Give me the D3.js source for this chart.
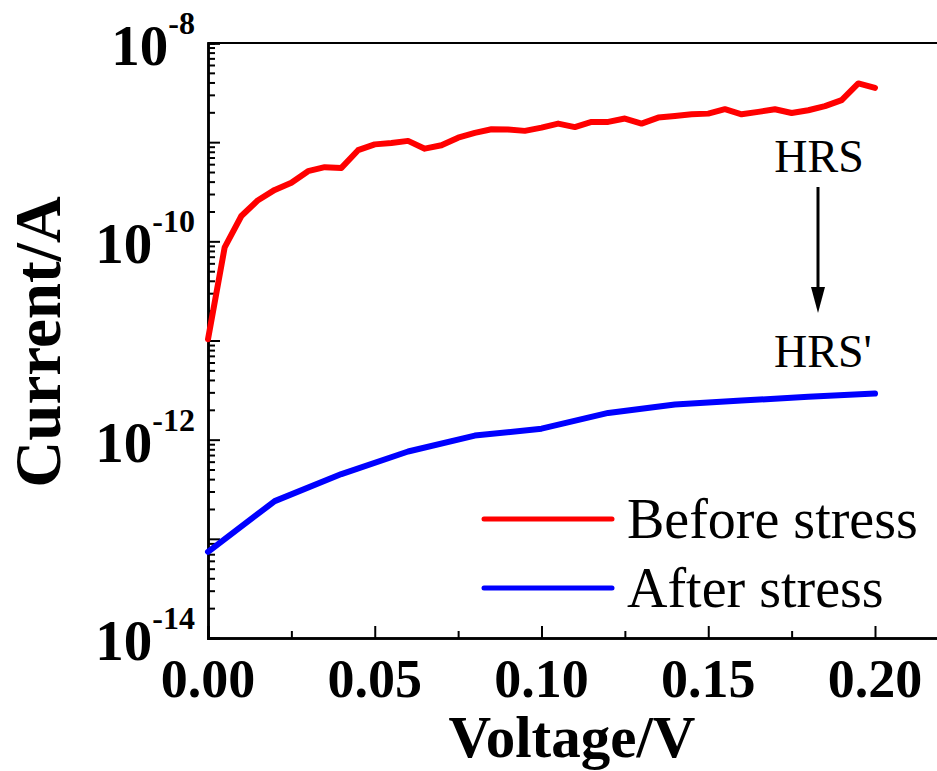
<!DOCTYPE html>
<html>
<head>
<meta charset="utf-8">
<script src="https://cdn.jsdelivr.net/npm/d3@7"></script>
<style>
  html, body { margin: 0; padding: 0; background: #ffffff; }
  svg { display: block; }
  text { font-family: "Liberation Serif", "Times New Roman", serif; }
</style>
</head>
<body>
<svg id="chart" width="937" height="771"></svg>
<script>
// ---- data ----
const voltageBefore = [0,0.005,0.01,0.015,0.02,0.025,0.03,0.035,0.04,0.045,0.05,0.055,0.06,0.065,0.07,0.075,0.08,0.085,0.09,0.095,0.1,0.105,0.11,0.115,0.12,0.125,0.13,0.135,0.14,0.145,0.15,0.155,0.16,0.165,0.17,0.175,0.18,0.185,0.19,0.195,0.2];
const currentBefore = [1.03e-11,8.7e-11,1.8e-10,2.6e-10,3.3e-10,3.9e-10,5.1e-10,5.6e-10,5.5e-10,8.3e-10,9.5e-10,9.8e-10,1.03e-9,8.6e-10,9.3e-10,1.11e-9,1.24e-9,1.35e-9,1.34e-9,1.30e-9,1.40e-9,1.54e-9,1.42e-9,1.60e-9,1.60e-9,1.73e-9,1.54e-9,1.77e-9,1.84e-9,1.91e-9,1.94e-9,2.15e-9,1.91e-9,2.02e-9,2.15e-9,1.97e-9,2.10e-9,2.31e-9,2.65e-9,3.91e-9,3.53e-9];
const voltageAfter = [0,0.02,0.04,0.06,0.08,0.10,0.12,0.14,0.16,0.18,0.20];
const currentAfter = [7.4e-14,2.4e-13,4.5e-13,7.6e-13,1.1e-12,1.29e-12,1.86e-12,2.26e-12,2.48e-12,2.71e-12,2.92e-12];
const seriesNames = ["Before stress","After stress"];
const seriesColors = ["#ff0000","#0000ff"];
const xTickValues = [0,0.05,0.10,0.15,0.20];
const xMinorTicks = [0.025,0.075,0.125,0.175];
const yLabelExponents = [-8,-10,-12,-14];
const xTitle = "Voltage/V";
const yTitle = "Current/A";

(function () {
// ---- layout ----
const mLeft = 208, mTop = 43, mBottom = 638;
const xDomainMax = 0.22;
const pxPerV = (875 - 208) / 0.20;
const mRight = mLeft + xDomainMax * pxPerV;

const svg = d3.select("#chart");
const x = d3.scaleLinear().domain([0, xDomainMax]).range([mLeft, mRight]);
const y = d3.scaleLog().domain([1e-14, 1e-8]).range([mBottom, mTop]);

// frame top line
svg.append("line").attr("x1", mLeft).attr("x2", mRight).attr("y1", mTop).attr("y2", mTop)
  .attr("stroke", "#000").attr("stroke-width", 2);

// y axis
const yMinor = [];
for (let e = -14; e < -8; e++) for (let m = 2; m <= 9; m++) yMinor.push(m * Math.pow(10, e));
const yMajor = d3.range(-14, -7).map(e => Math.pow(10, e));

const gyMinor = svg.append("g").attr("transform", `translate(${mLeft},0)`)
  .call(d3.axisLeft(y).tickValues(yMinor).tickSize(-7).tickFormat(""));
const gyMajor = svg.append("g").attr("transform", `translate(${mLeft},0)`)
  .call(d3.axisLeft(y).tickValues(yMajor).tickSize(-12).tickFormat(""));
[gyMinor, gyMajor].forEach(g => {
  g.select(".domain").attr("stroke", "#000").attr("stroke-width", 2.5);
  g.selectAll(".tick line").attr("stroke", "#000").attr("stroke-width", 2);
});

// x axis
const gxMinor = svg.append("g").attr("transform", `translate(0,${mBottom})`)
  .call(d3.axisBottom(x).tickValues(xMinorTicks).tickSize(-7).tickFormat(""));
const gxMajor = svg.append("g").attr("transform", `translate(0,${mBottom})`)
  .call(d3.axisBottom(x).tickValues(xTickValues).tickSize(-12).tickFormat(""));
[gxMinor, gxMajor].forEach(g => {
  g.select(".domain").attr("stroke", "#000").attr("stroke-width", 2.5);
  g.selectAll(".tick line").attr("stroke", "#000").attr("stroke-width", 2);
});

// x tick labels
svg.append("g").selectAll("text").data(xTickValues).join("text")
  .attr("x", d => x(d)).attr("y", 697)
  .attr("text-anchor", "middle")
  .attr("font-weight", "bold").attr("font-size", 54)
  .text(d => d3.format(".2f")(d));

// y tick labels with superscripts
const yl = svg.append("g").selectAll("text").data(yLabelExponents).join("text")
  .attr("x", mLeft - 13).attr("y", d => y(Math.pow(10, d)) + 22)
  .attr("text-anchor", "end")
  .attr("font-weight", "bold").attr("font-size", 57);
yl.append("tspan").text("10");
yl.append("tspan").attr("dy", -31).attr("font-size", 32).text(d => "-" + Math.abs(d));

// axis titles
svg.append("text").attr("x", 572).attr("y", 757).attr("text-anchor", "middle")
  .attr("font-weight", "bold").attr("font-size", 59).text(xTitle);
svg.append("text").attr("transform", "translate(60,342) rotate(-90)").attr("text-anchor", "middle")
  .attr("font-weight", "bold").attr("font-size", 65).text(yTitle);

// lines
const line = d3.line().x(d => x(d[0])).y(d => y(d[1]));
const dataBefore = voltageBefore.map((v, i) => [v, currentBefore[i]]);
const dataAfter = voltageAfter.map((v, i) => [v, currentAfter[i]]);
[dataBefore, dataAfter].forEach((dat, i) => {
  svg.append("path").datum(dat).attr("d", line)
    .attr("fill", "none").attr("stroke", seriesColors[i]).attr("stroke-width", 6)
    .attr("stroke-linejoin", "round").attr("stroke-linecap", "round");
});

// legend
const legY = [519, 588];
seriesNames.forEach((name, i) => {
  svg.append("line").attr("x1", 484).attr("x2", 612).attr("y1", legY[i]).attr("y2", legY[i])
    .attr("stroke", seriesColors[i]).attr("stroke-width", 5).attr("stroke-linecap", "round");
  svg.append("text").attr("x", 627).attr("y", legY[i] + 19)
    .attr("font-size", 56).attr("fill", "#000").text(name);
});

// annotation HRS -> HRS'
const ax = 818;
svg.append("text").attr("x", ax + 1).attr("y", 172).attr("text-anchor", "middle")
  .attr("font-size", 46).text("HRS");
svg.append("line").attr("x1", ax).attr("x2", ax).attr("y1", 187).attr("y2", 292)
  .attr("stroke", "#000").attr("stroke-width", 3);
svg.append("path").attr("d", `M${ax-7},287 L${ax+7},287 L${ax},313 Z`).attr("fill", "#000");
svg.append("text").attr("x", ax + 5).attr("y", 367).attr("text-anchor", "middle")
  .attr("font-size", 46).text("HRS'");
})();
</script>
</body>
</html>
